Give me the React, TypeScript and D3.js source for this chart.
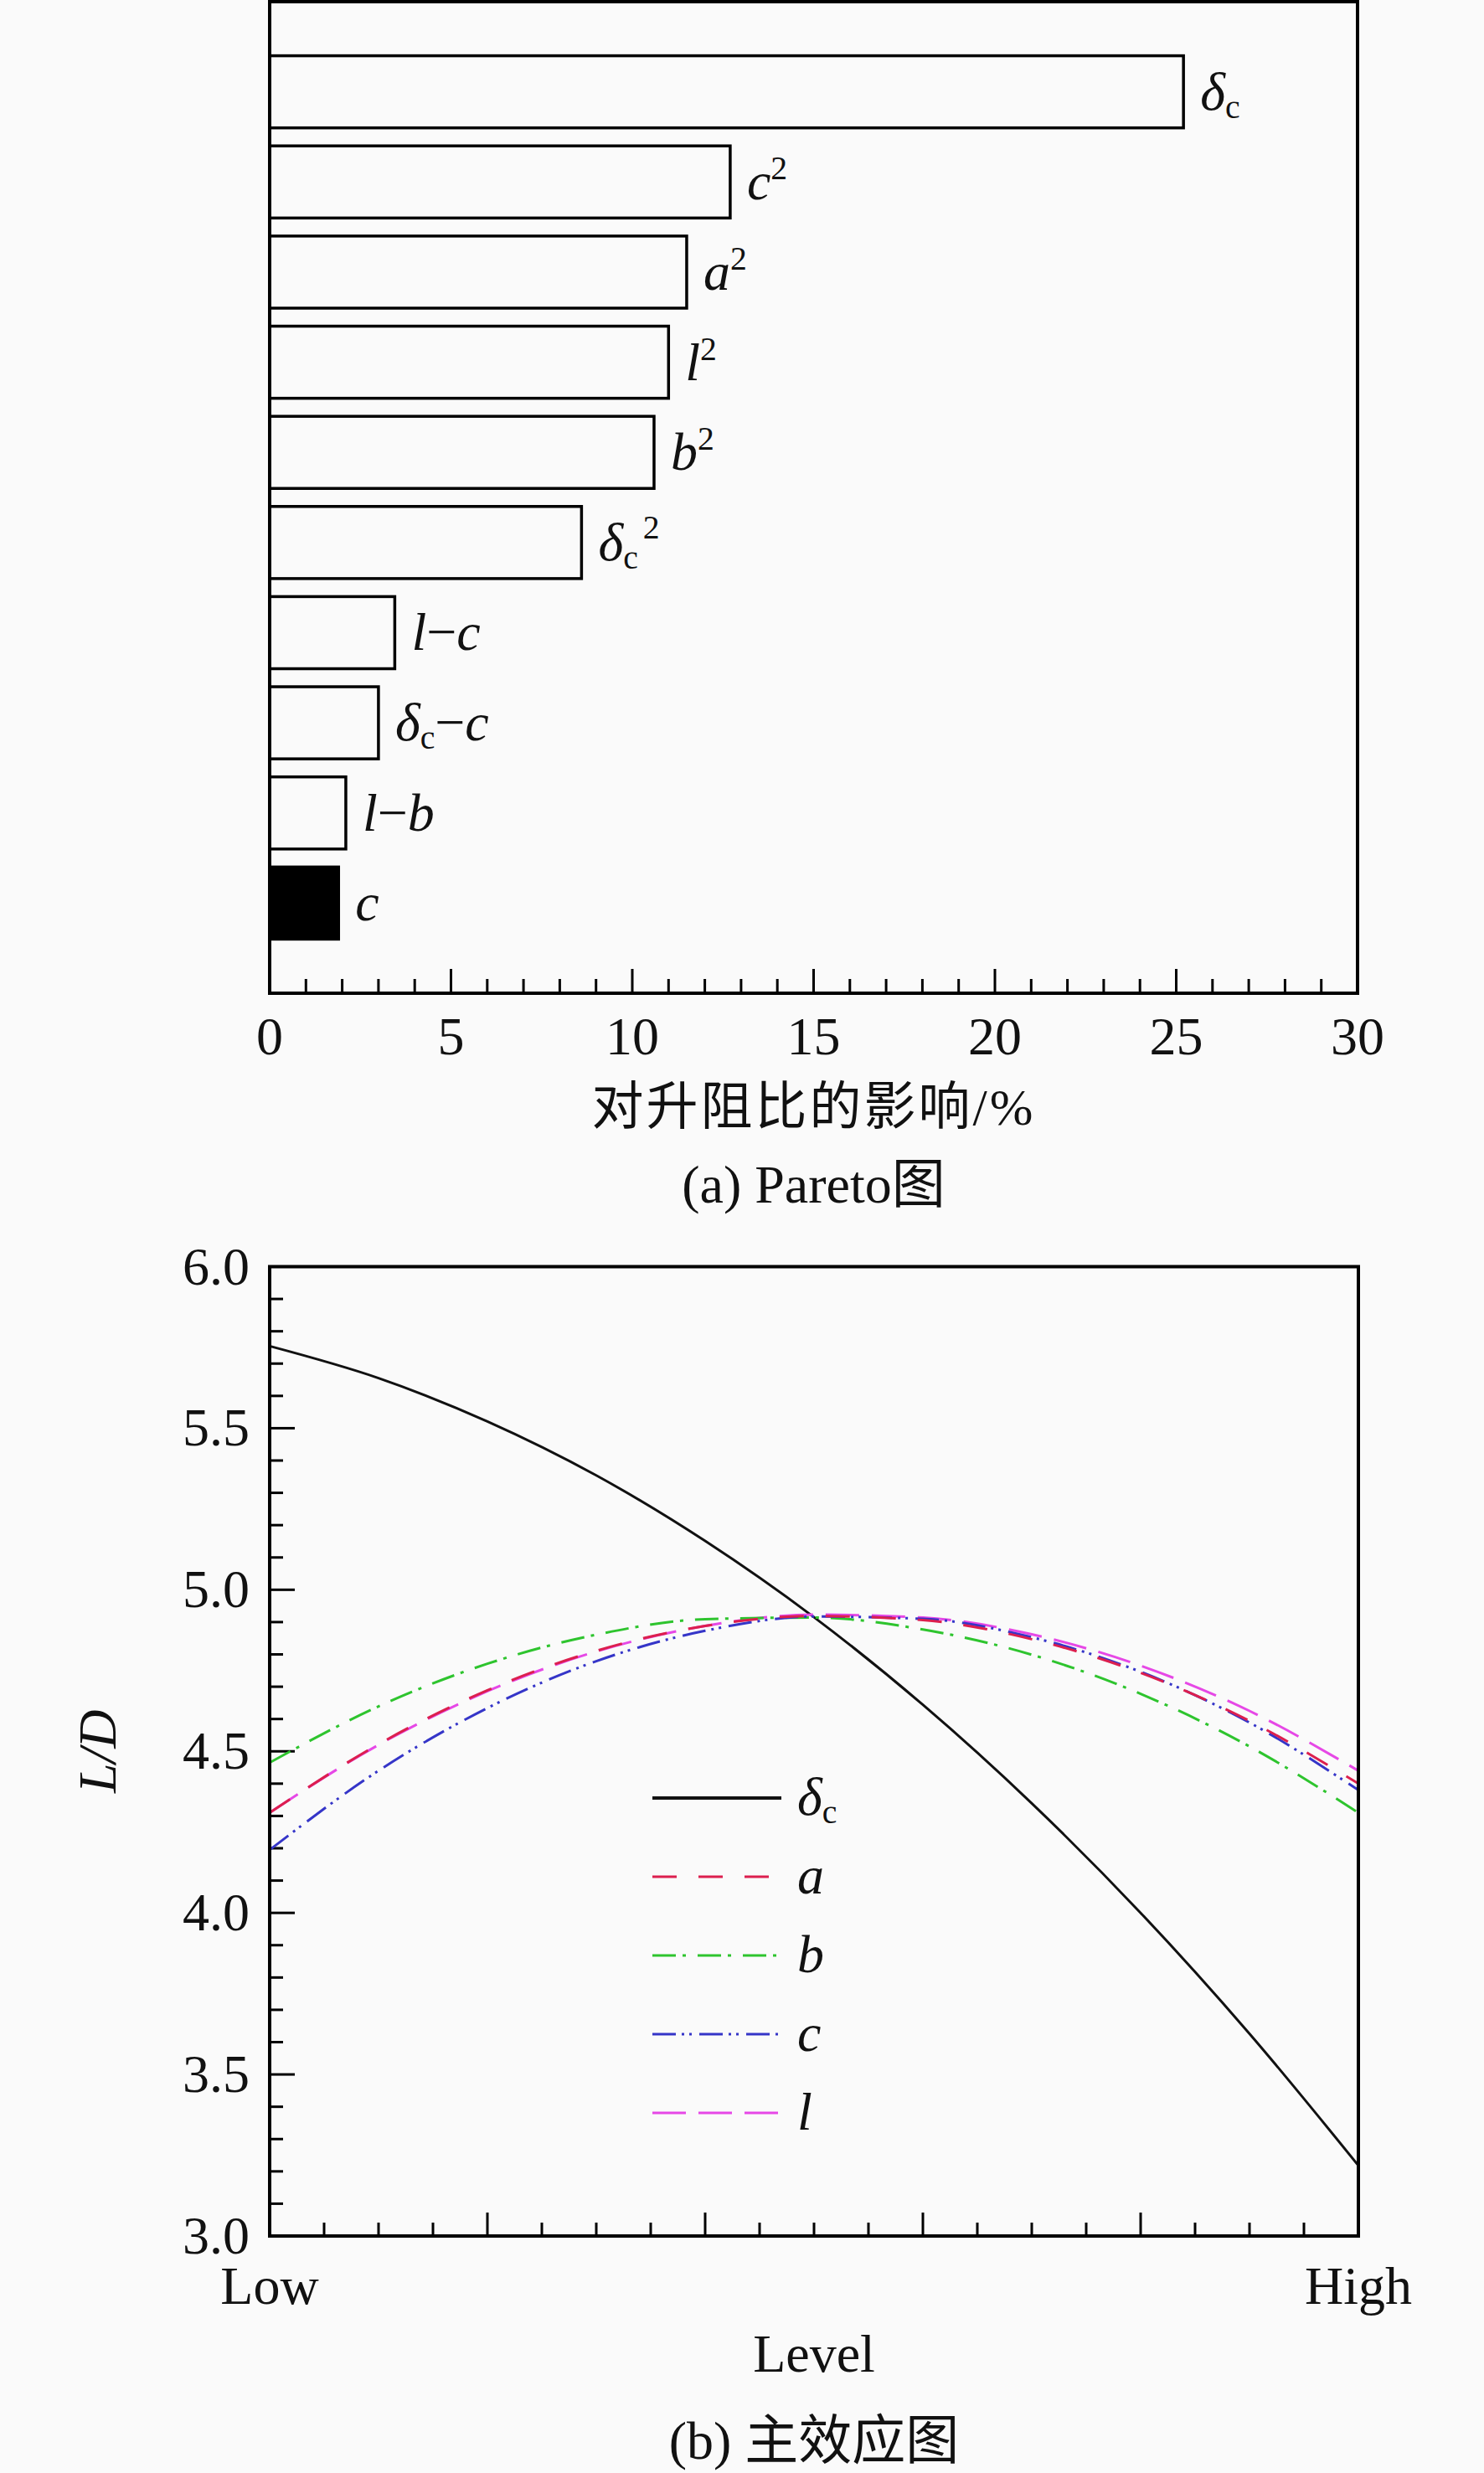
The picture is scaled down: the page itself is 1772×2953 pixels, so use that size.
import React from 'react';
import * as d3 from 'd3';

// ---------- Data: (a) Pareto ----------
const paretoTerms = ['dc', 'c2', 'a2', 'l2', 'b2', 'dc2', 'l-c', 'dc-c', 'l-b', 'c'];
const paretoValues = [25.2, 12.7, 11.5, 11.0, 10.6, 8.6, 3.45, 3.0, 2.1, 1.9];
const paretoFilled = [false, false, false, false, false, false, false, false, false, true];
const paretoTicks = [0, 5, 10, 15, 20, 25, 30];

// ---------- Data: (b) main effects ----------
const levels = [0, 0.1, 0.2, 0.3, 0.4, 0.5, 0.6, 0.7, 0.8, 0.9, 1.0];
const effectDc = [5.754, 5.655, 5.521, 5.354, 5.151, 4.915, 4.644, 4.339, 4.0, 3.626, 3.218];
const effectA = [4.31, 4.522, 4.689, 4.811, 4.888, 4.919, 4.906, 4.847, 4.743, 4.594, 4.40];
const effectB = [4.465, 4.639, 4.771, 4.861, 4.909, 4.914, 4.877, 4.799, 4.678, 4.515, 4.31];
const effectC = [4.195, 4.44, 4.634, 4.779, 4.873, 4.917, 4.91, 4.853, 4.746, 4.589, 4.38];
const effectL = [4.31, 4.52, 4.686, 4.809, 4.888, 4.923, 4.914, 4.862, 4.765, 4.625, 4.44];
const effectKeys = ['dc', 'a', 'b', 'c', 'l'];
const effectSeries = [effectDc, effectA, effectB, effectC, effectL];
const effectColors = ['#111111', '#dc1f4e', '#2ec42e', '#3535c8', '#e648e6'];
const effectDashes = ['none', '29 26', '28 8 4 14', '28 7 3 6 3 9', '40 15'];
const yTicksB = [3.0, 3.5, 4.0, 4.5, 5.0, 5.5, 6.0];

const SERIF = "'Liberation Serif', 'Times New Roman', 'Noto Sans CJK SC', serif";
const CJK = "'Liberation Serif', 'Noto Sans CJK SC', serif";

function TermLabel({ term, x, y, size }: { term: string; x: number; y: number; size: number }) {
  const sub = size * 0.62;
  const it = { fontStyle: 'italic' as const };
  let content: React.ReactNode = null;
  switch (term) {
    case 'dc':
      content = (<><tspan {...it}>δ</tspan><tspan fontSize={sub} dy={10}>c</tspan></>);
      break;
    case 'c2':
    case 'a2':
    case 'l2':
    case 'b2':
      content = (<><tspan {...it}>{term[0]}</tspan><tspan fontSize={sub} dy={-24}>2</tspan></>);
      break;
    case 'dc2':
      content = (<><tspan {...it}>δ</tspan><tspan fontSize={sub} dy={10}>c</tspan><tspan fontSize={sub} dx={6} dy={-36}>2</tspan></>);
      break;
    case 'l-c':
      content = (<><tspan {...it}>l</tspan><tspan>−</tspan><tspan {...it}>c</tspan></>);
      break;
    case 'l-b':
      content = (<><tspan {...it}>l</tspan><tspan>−</tspan><tspan {...it}>b</tspan></>);
      break;
    case 'dc-c':
      content = (<><tspan {...it}>δ</tspan><tspan fontSize={sub} dy={10}>c</tspan><tspan dy={-10}>−</tspan><tspan {...it}>c</tspan></>);
      break;
    default:
      content = (<tspan {...it}>{term}</tspan>);
  }
  return (
    <text x={x} y={y} fontSize={size} fontFamily={SERIF} fill="#111">
      {content}
    </text>
  );
}

export default function App() {
  // ---- Chart (a) ----
  const aLeft = 322, aRight = 1621, aTop = 2, aBottom = 1186;
  const xA = d3.scaleLinear().domain([0, 30]).range([aLeft, aRight]);
  const yA = d3.scaleBand<string>().domain(paretoTerms).range([aTop, aBottom]).paddingInner(0.2).paddingOuter(0.6);
  const minorA = d3.range(0, 31);

  // ---- Chart (b) ----
  const bLeft = 322, bRight = 1622, bTop = 1512.5, bBottom = 2670;
  const xB = d3.scaleLinear().domain([0, 1]).range([bLeft, bRight]);
  const yB = d3.scaleLinear().domain([3, 6]).range([bBottom, bTop]);
  const yMinorB = d3.range(30, 61).map((v) => v / 10);
  const xMinorB = d3.range(0, 21).map((i) => i / 20);
  const line = d3
    .line<[number, number]>()
    .x((d) => xB(d[0]))
    .y((d) => yB(d[1]))
    .curve(d3.curveMonotoneX);

  const legendX0 = 779, legendX1 = 933, legendY0 = 2147, legendStep = 94;
  const drawOrder = [0, 4, 2, 3, 1];

  return (
    <svg
      width={1772}
      height={2953}
      viewBox="0 0 1772 2953"
      style={{ position: 'absolute', left: 0, top: 0, display: 'block' }}
    >
      <rect x={0} y={0} width={1772} height={2953} fill="#fafafa" />

      {/* ===== (a) Pareto ===== */}
      <g>
        {paretoTerms.map((t, i) => (
          <rect
            key={t}
            x={xA(0)}
            y={yA(t)!}
            width={xA(paretoValues[i]) - xA(0)}
            height={yA.bandwidth()}
            fill={paretoFilled[i] ? '#000' : 'none'}
            stroke="#000"
            strokeWidth={3.5}
          />
        ))}
        {paretoTerms.map((t, i) => (
          <TermLabel key={t} term={t} x={xA(paretoValues[i]) + 20} y={yA(t)! + yA.bandwidth() / 2 + 21} size={64} />
        ))}
        {minorA.map((v) => (
          <line
            key={v}
            x1={xA(v)}
            x2={xA(v)}
            y1={aBottom}
            y2={aBottom - (v % 5 === 0 ? 29 : 17)}
            stroke="#000"
            strokeWidth={3}
          />
        ))}
        <rect x={aLeft} y={aTop} width={aRight - aLeft} height={aBottom - aTop} fill="none" stroke="#000" strokeWidth={4} />
        {paretoTicks.map((v) => (
          <text key={v} x={xA(v)} y={1259} fontSize={64} fontFamily={SERIF} textAnchor="middle" fill="#111">
            {v}
          </text>
        ))}
        <text x={(aLeft + aRight) / 2} y={1343} fontSize={62} fontFamily={CJK} textAnchor="middle" letterSpacing={3} fill="#111">
          对升阻比的影响/%
        </text>
        <text x={(aLeft + aRight) / 2} y={1436} fontSize={64} fontFamily={CJK} textAnchor="middle" fill="#111">
          (a) Pareto图
        </text>
      </g>

      {/* ===== (b) main effects ===== */}
      <g>
        {yMinorB.map((v, i) => (
          <line
            key={'yt' + i}
            x1={bLeft}
            x2={bLeft + (i % 5 === 0 ? 30 : 16)}
            y1={yB(v)}
            y2={yB(v)}
            stroke="#000"
            strokeWidth={3}
          />
        ))}
        {xMinorB.map((v, i) => (
          <line
            key={'xt' + i}
            x1={xB(v)}
            x2={xB(v)}
            y1={bBottom}
            y2={bBottom - (i % 4 === 0 ? 28 : 16)}
            stroke="#000"
            strokeWidth={3}
          />
        ))}
        {drawOrder.map((si) => (
          <path
            key={effectKeys[si]}
            d={line(levels.map((l, j) => [l, effectSeries[si][j]] as [number, number]))!}
            fill="none"
            stroke={effectColors[si]}
            strokeWidth={si === 0 ? 3 : 3}
            strokeDasharray={effectDashes[si]}
          />
        ))}
        <rect x={bLeft} y={bTop} width={bRight - bLeft} height={bBottom - bTop} fill="none" stroke="#000" strokeWidth={4} />
        {yTicksB.map((v) => (
          <text key={v} x={298} y={yB(v) + 21} fontSize={64} fontFamily={SERIF} textAnchor="end" fill="#111">
            {v.toFixed(1)}
          </text>
        ))}
        <text x={xB(0)} y={2751} fontSize={64} fontFamily={SERIF} textAnchor="middle" fill="#111">Low</text>
        <text x={xB(1)} y={2751} fontSize={64} fontFamily={SERIF} textAnchor="middle" fill="#111">High</text>
        <text x={(bLeft + bRight) / 2} y={2832} fontSize={64} fontFamily={SERIF} textAnchor="middle" fill="#111">Level</text>
        <text x={(bLeft + bRight) / 2} y={2936} fontSize={64} fontFamily={CJK} textAnchor="middle" fill="#111">
          (b) 主效应图
        </text>
        <text
          transform={`translate(138, ${(bTop + bBottom) / 2}) rotate(-90)`}
          fontSize={64}
          fontFamily={SERIF}
          fontStyle="italic"
          textAnchor="middle"
          fill="#111"
        >
          L/D
        </text>
        {/* legend */}
        {effectKeys.map((k, i) => (
          <g key={'lg' + k}>
            <line
              x1={legendX0}
              x2={legendX1}
              y1={legendY0 + i * legendStep}
              y2={legendY0 + i * legendStep}
              stroke={effectColors[i]}
              strokeWidth={i === 0 ? 4 : 3}
              strokeDasharray={effectDashes[i]}
            />
            <TermLabel term={k} x={952} y={legendY0 + i * legendStep + 20} size={64} />
          </g>
        ))}
      </g>
    </svg>
  );
}
